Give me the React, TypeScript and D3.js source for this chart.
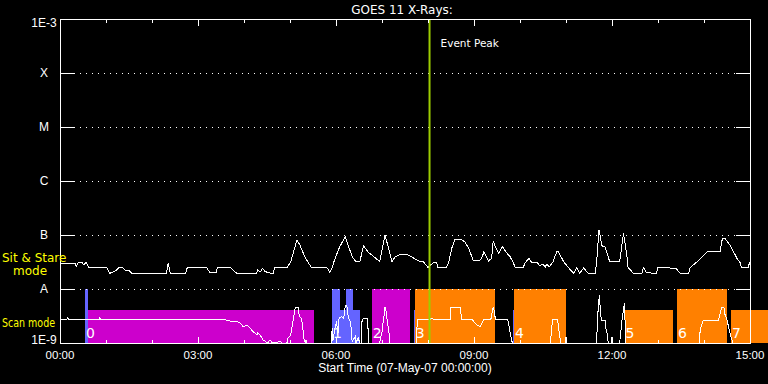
import React from 'react';
import * as d3 from 'd3';

// ---------------- data ----------------
const chartTitle = 'GOES 11 X-Rays:';
const xAxisTitle = 'Start Time (07-May-07 00:00:00)';

// y axis: flux classes (W/m^2)
const yTickValues = [1e-9, 1e-8, 1e-7, 1e-6, 1e-5, 1e-4, 1e-3];
const yTickLabels = ['1E-9', 'A', 'B', 'C', 'M', 'X', '1E-3'];
const gridValues = [1e-8, 1e-7, 1e-6, 1e-5, 1e-4];

// x axis: minutes after 00:00
const xMajorTicks = [0, 180, 360, 540, 720, 900];
const xMajorLabels = ['00:00', '03:00', '06:00', '09:00', '12:00', '15:00'];
const xMinorTicks = [60, 120, 240, 300, 420, 480, 600, 660, 780, 840];

const eventPeakMinute = 482;

// Upper curve ("Sit & Stare" channel): [minute, flux]
const sitStareFlux: [number, number][] = [
  [0, 3.0e-8], [20, 3.0e-8], [21, 2.6e-8], [24, 3.1e-8], [29, 3.1e-8], [31, 2.8e-8], [34, 3.1e-8],
  [37, 2.55e-8], [61, 2.5e-8], [65, 1.95e-8], [72, 2.15e-8], [78, 2.55e-8], [82, 2.45e-8],
  [86, 2.15e-8], [89, 2.25e-8], [94, 1.95e-8], [139, 1.95e-8], [141, 3.0e-8], [144, 1.95e-8],
  [164, 1.95e-8], [166, 2.5e-8], [191, 2.5e-8], [196, 2.0e-8], [204, 2.0e-8], [205, 2.5e-8],
  [222, 2.5e-8], [227, 2.15e-8], [231, 1.95e-8], [256, 1.95e-8], [258, 2.25e-8], [261, 2.05e-8],
  [264, 2.4e-8], [267, 2.15e-8], [271, 2.0e-8], [278, 1.95e-8], [280, 2.5e-8], [296, 2.5e-8],
  [301, 3.2e-8], [309, 8.1e-8], [313, 6.5e-8], [320, 3.75e-8], [328, 2.5e-8], [348, 2.5e-8],
  [352, 2.05e-8], [355, 2.45e-8], [357, 3.1e-8], [360, 4.1e-8], [365, 6.1e-8], [372, 9.3e-8],
  [381, 4.0e-8], [386, 3.2e-8], [391, 3.2e-8], [396, 6.3e-8], [402, 4.8e-8], [409, 4.0e-8],
  [417, 3.2e-8], [424, 1.0e-7], [433, 3.2e-8], [437, 3.9e-8], [444, 4.4e-8], [452, 4.4e-8],
  [459, 3.9e-8], [470, 3.2e-8], [474, 3.2e-8], [480, 2.5e-8], [487, 3.1e-8], [491, 3.1e-8],
  [493, 2.5e-8], [504, 2.5e-8], [507, 3.1e-8], [511, 5.7e-8], [515, 8.1e-8], [522, 8.4e-8],
  [528, 7.5e-8], [533, 5.7e-8], [539, 3.4e-8], [546, 3.3e-8], [550, 3.7e-8], [553, 4.9e-8],
  [559, 3.3e-8], [563, 3.7e-8], [565, 7.7e-8], [567, 6.5e-8], [572, 4.6e-8], [577, 6.1e-8],
  [583, 4.6e-8], [587, 4.0e-8], [591, 3.1e-8], [594, 2.5e-8], [604, 2.5e-8], [607, 3.1e-8],
  [612, 3.7e-8], [615, 3.1e-8], [622, 3.1e-8], [626, 2.7e-8], [630, 2.9e-8], [633, 2.55e-8],
  [635, 2.9e-8], [638, 2.55e-8], [640, 2.8e-8], [643, 3.2e-8], [648, 4.9e-8], [650, 4.9e-8],
  [657, 3.2e-8], [663, 2.5e-8], [670, 1.95e-8], [674, 2.5e-8], [678, 1.95e-8], [683, 2.45e-8],
  [689, 1.95e-8], [698, 1.95e-8], [700, 3.2e-8], [703, 1.24e-7], [707, 6.3e-8], [711, 6.0e-8],
  [717, 3.2e-8], [730, 3.2e-8], [735, 1.08e-7], [739, 4.6e-8], [741, 2.5e-8], [748, 1.95e-8],
  [759, 1.95e-8], [761, 2.5e-8], [765, 2.0e-8], [778, 1.95e-8], [780, 2.5e-8], [791, 2.5e-8],
  [804, 2.35e-8], [809, 1.95e-8], [820, 1.95e-8], [822, 2.5e-8], [830, 3.1e-8], [844, 4.9e-8],
  [861, 4.9e-8], [864, 8.7e-8], [867, 8.7e-8], [874, 6.5e-8], [883, 3.7e-8], [887, 3.1e-8],
  [889, 2.5e-8], [898, 2.5e-8], [899, 3.1e-8], [900, 2.8e-8],
];

// Lower curve ("Scan mode" channel): [minute, flux]
const scanFlux: [number, number][] = [
  [0, 2.75e-9], [9, 2.75e-9], [10, 2.9e-9], [11, 2.75e-9], [51, 2.75e-9], [52, 3.0e-9], [53, 2.75e-9],
  [215, 2.75e-9], [217, 2.65e-9], [222, 2.55e-9], [226, 2.45e-9], [230, 2.55e-9], [235, 2.35e-9],
  [239, 2.0e-9], [244, 2.15e-9], [248, 1.87e-9], [252, 1.62e-9], [257, 1.41e-9], [258, 1.53e-9],
  [261, 1.41e-9], [265, 1.14e-9], [271, 1e-9], [274, 1.14e-9], [277, 1e-9], [287, 1.06e-9],
  [290, 1e-9], [296, 1e-9], [297, 1.22e-9], [301, 1.41e-9], [303, 2.15e-9], [305, 3.1e-9],
  [307, 4.6e-9], [311, 4.6e-9], [312, 3.1e-9], [315, 2.85e-9], [317, 1.74e-9], [318, 1.22e-9],
  [320, 1e-9], [321, 1.14e-9], [322, 1e-9], [354, 1e-9], [355, 1.87e-9], [356, 1.09e-9],
  [359, 2.0e-9], [361, 2.5e-9], [362, 1.41e-9], [363, 1.62e-9], [364, 2.85e-9], [367, 3.1e-9],
  [370, 2.85e-9], [372, 4.7e-9], [373, 5.1e-9], [375, 4.4e-9], [376, 2.85e-9], [378, 2.65e-9],
  [380, 1.87e-9], [381, 1.06e-9], [385, 1.31e-9], [386, 1e-9], [389, 1.24e-9], [391, 1e-9],
  [393, 1e-9], [394, 2.65e-9], [396, 2.85e-9], [401, 2.85e-9], [402, 1.62e-9], [403, 1e-9],
  [417, 1e-9], [418, 1.24e-9], [420, 1.62e-9], [421, 2.15e-9], [423, 3.5e-9], [424, 4.7e-9],
  [425, 4.1e-9], [427, 2.5e-9], [429, 1.62e-9], [430, 1e-9], [465, 1e-9], [466, 2.75e-9],
  [483, 2.75e-9], [485, 2.9e-9], [487, 2.75e-9], [509, 2.75e-9], [510, 4.6e-9], [522, 4.6e-9],
  [524, 2.75e-9], [537, 2.75e-9], [544, 2.15e-9], [548, 2.0e-9], [553, 2.75e-9], [562, 2.75e-9],
  [565, 4.7e-9], [566, 4.1e-9], [568, 2.75e-9], [584, 2.75e-9], [587, 1.6e-9], [590, 1e-9],
  [640, 1e-9], [641, 1.87e-9], [643, 2.75e-9], [649, 2.75e-9], [651, 1.62e-9], [653, 1e-9],
  [659, 1e-9], [660, 1.29e-9], [661, 1e-9], [700, 1e-9], [701, 2.85e-9], [702.5, 5.1e-9],
  [703.4, 7.7e-9], [704, 5.8e-9], [706, 2.65e-9], [711, 2.65e-9], [712, 1.87e-9], [714, 1.41e-9],
  [715, 1e-9], [719, 1e-9], [719.5, 1.31e-9], [720, 1e-9], [730, 1e-9], [733, 2.65e-9],
  [735, 4.1e-9], [736, 5.4e-9], [737, 2.65e-9], [738, 1e-9], [780, 1e-9], [780.4, 1.14e-9],
  [781, 1e-9], [834, 1e-9], [835, 1.74e-9], [839, 2.65e-9], [859, 2.65e-9], [861, 3.5e-9],
  [863, 4.6e-9], [866, 4.6e-9], [867, 3.5e-9], [870, 2.65e-9], [872, 2.0e-9], [875, 1.31e-9],
  [878, 1e-9], [900, 1e-9],
];

// Observation mode blocks: [startMinute, endMinute, mode, topFlux]
const modeColors: Record<string, string> = { blue: '#6464ff', magenta: '#cc00cc', orange: '#ff8000' };
const modeBlocks: [number, number, string, number][] = [
  [32.6, 36.5, 'blue', 1e-8],
  [36.5, 331.3, 'magenta', 4.1e-9],
  [354.8, 365.2, 'blue', 1e-8],
  [365.2, 373, 'blue', 4.1e-9],
  [373, 382.2, 'blue', 1e-8],
  [382.2, 391.3, 'blue', 4.1e-9],
  [407, 456.5, 'magenta', 1e-8],
  [461.7, 463, 'blue', 4.1e-9],
  [463, 567.4, 'orange', 1e-8],
  [590.9, 592.2, 'blue', 4.1e-9],
  [592.2, 660, 'orange', 1e-8],
  [737, 799.6, 'orange', 4.1e-9],
  [804.8, 870, 'orange', 1e-8],
  [875.2, 923.5, 'orange', 4.1e-9],
];
const blockLabelMinutes = [34, 356, 408, 464, 593.5, 737.5, 806, 876.5];
const blockLabelTexts = ['0', '1', '2', '3', '4', '5', '6', '7'];

// ---------------- chart ----------------
const W = 768;
const H = 384;
const L = 60, R = 750, T = 19, B = 343;

export default function App() {
  const x = d3.scaleLinear().domain([0, 900]).range([L, R]);
  const y = d3.scaleLog().domain([1e-9, 1e-3]).range([B, T]);
  const line = d3.line<[number, number]>().x(d => x(d[0])).y(d => y(d[1]));
  const sans = 'Liberation Sans, Arial, sans-serif';
  const dv = 'DejaVu Sans, sans-serif';

  return (
    <svg width={W} height={H} style={{ position: 'fixed', left: 0, top: 0, display: 'block' }}>
      <rect x={0} y={0} width={W} height={H} fill="#000" />

      {/* mode blocks */}
      <g shapeRendering="crispEdges">
        {modeBlocks.map(([s, e, m, top], i) => (
          <rect key={i} x={x(s)} y={y(top)} width={x(e) - x(s)} height={B - y(top)} fill={modeColors[m]} />
        ))}
      </g>

      {/* grid lines */}
      <g shapeRendering="crispEdges" stroke="#fff" strokeWidth={1}>
        {gridValues.map((v, i) => (
          <g key={i}>
            <line x1={L + 14} x2={R - 14} y1={Math.round(y(v)) + 0.5} y2={Math.round(y(v)) + 0.5} strokeDasharray="1,5" />
            <line x1={L} x2={L + 14} y1={Math.round(y(v)) + 0.5} y2={Math.round(y(v)) + 0.5} />
            <line x1={R - 14} x2={R} y1={Math.round(y(v)) + 0.5} y2={Math.round(y(v)) + 0.5} />
          </g>
        ))}
      </g>

      {/* block labels */}
      {blockLabelMinutes.map((m, i) => (
        <text key={i} x={x(m)} y={338} fill="#fff" fontFamily={dv} fontSize={14}>
          {blockLabelTexts[i]}
        </text>
      ))}

      {/* data lines */}
      <path d={line(scanFlux) || ''} fill="none" stroke="#fff" strokeWidth={1} shapeRendering="crispEdges" />
      <path d={line(sitStareFlux) || ''} fill="none" stroke="#fff" strokeWidth={1} shapeRendering="crispEdges" />

      {/* event peak */}
      <line x1={x(eventPeakMinute)} x2={x(eventPeakMinute)} y1={T} y2={B} stroke="#9ccc00" strokeWidth={2} />
      <text x={x(eventPeakMinute) + 11} y={47} fill="#fff" fontFamily={dv} fontSize={10.5}>Event Peak</text>

      {/* axes box + ticks */}
      <g shapeRendering="crispEdges" stroke="#fff" strokeWidth={1}>
        <rect x={L + 0.5} y={T + 0.5} width={R - L} height={B - T} fill="none" />
        {xMajorTicks.map((t, i) => (
          <g key={'M' + i}>
            <line x1={Math.round(x(t)) + 0.5} x2={Math.round(x(t)) + 0.5} y1={T} y2={T + 7} />
            <line x1={Math.round(x(t)) + 0.5} x2={Math.round(x(t)) + 0.5} y1={B} y2={B - 6} />
          </g>
        ))}
        {xMinorTicks.map((t, i) => (
          <g key={'m' + i}>
            <line x1={Math.round(x(t)) + 0.5} x2={Math.round(x(t)) + 0.5} y1={T} y2={T + 4} />
            <line x1={Math.round(x(t)) + 0.5} x2={Math.round(x(t)) + 0.5} y1={B} y2={B - 3} />
          </g>
        ))}
      </g>

      {/* y labels */}
      {yTickValues.map((v, i) => {
        let dy = 4;
        if (i === 0) dy = 1;
        if (i === yTickValues.length - 1) dy = 8;
        return (
          <text key={i} x={44} y={y(v) + dy} fill="#fff" fontFamily={sans} fontSize={12} textAnchor="middle">
            {yTickLabels[i]}
          </text>
        );
      })}

      {/* x labels */}
      {xMajorTicks.map((t, i) => (
        <text key={i} x={x(t)} y={359} fill="#fff" fontFamily={sans} fontSize={11.5} textAnchor="middle">
          {xMajorLabels[i]}
        </text>
      ))}
      <text x={(L + R) / 2} y={372} fill="#fff" fontFamily={sans} fontSize={12} textAnchor="middle">
        {xAxisTitle}
      </text>

      {/* title */}
      <text x={(L + R) / 2 - 3} y={14} fill="#fff" fontFamily={dv} fontSize={12} textAnchor="middle">
        {chartTitle}
      </text>

      {/* mode annotations */}
      <text x={2} y={262} fill="#ffff00" fontFamily={dv} fontSize={12}>Sit &amp; Stare</text>
      <text x={13} y={275} fill="#ffff00" fontFamily={dv} fontSize={12}>mode</text>
      <text x={2} y={327} fill="#ffff00" fontFamily={dv} fontSize={12} textLength={53} lengthAdjust="spacingAndGlyphs">Scan mode</text>
    </svg>
  );
}
